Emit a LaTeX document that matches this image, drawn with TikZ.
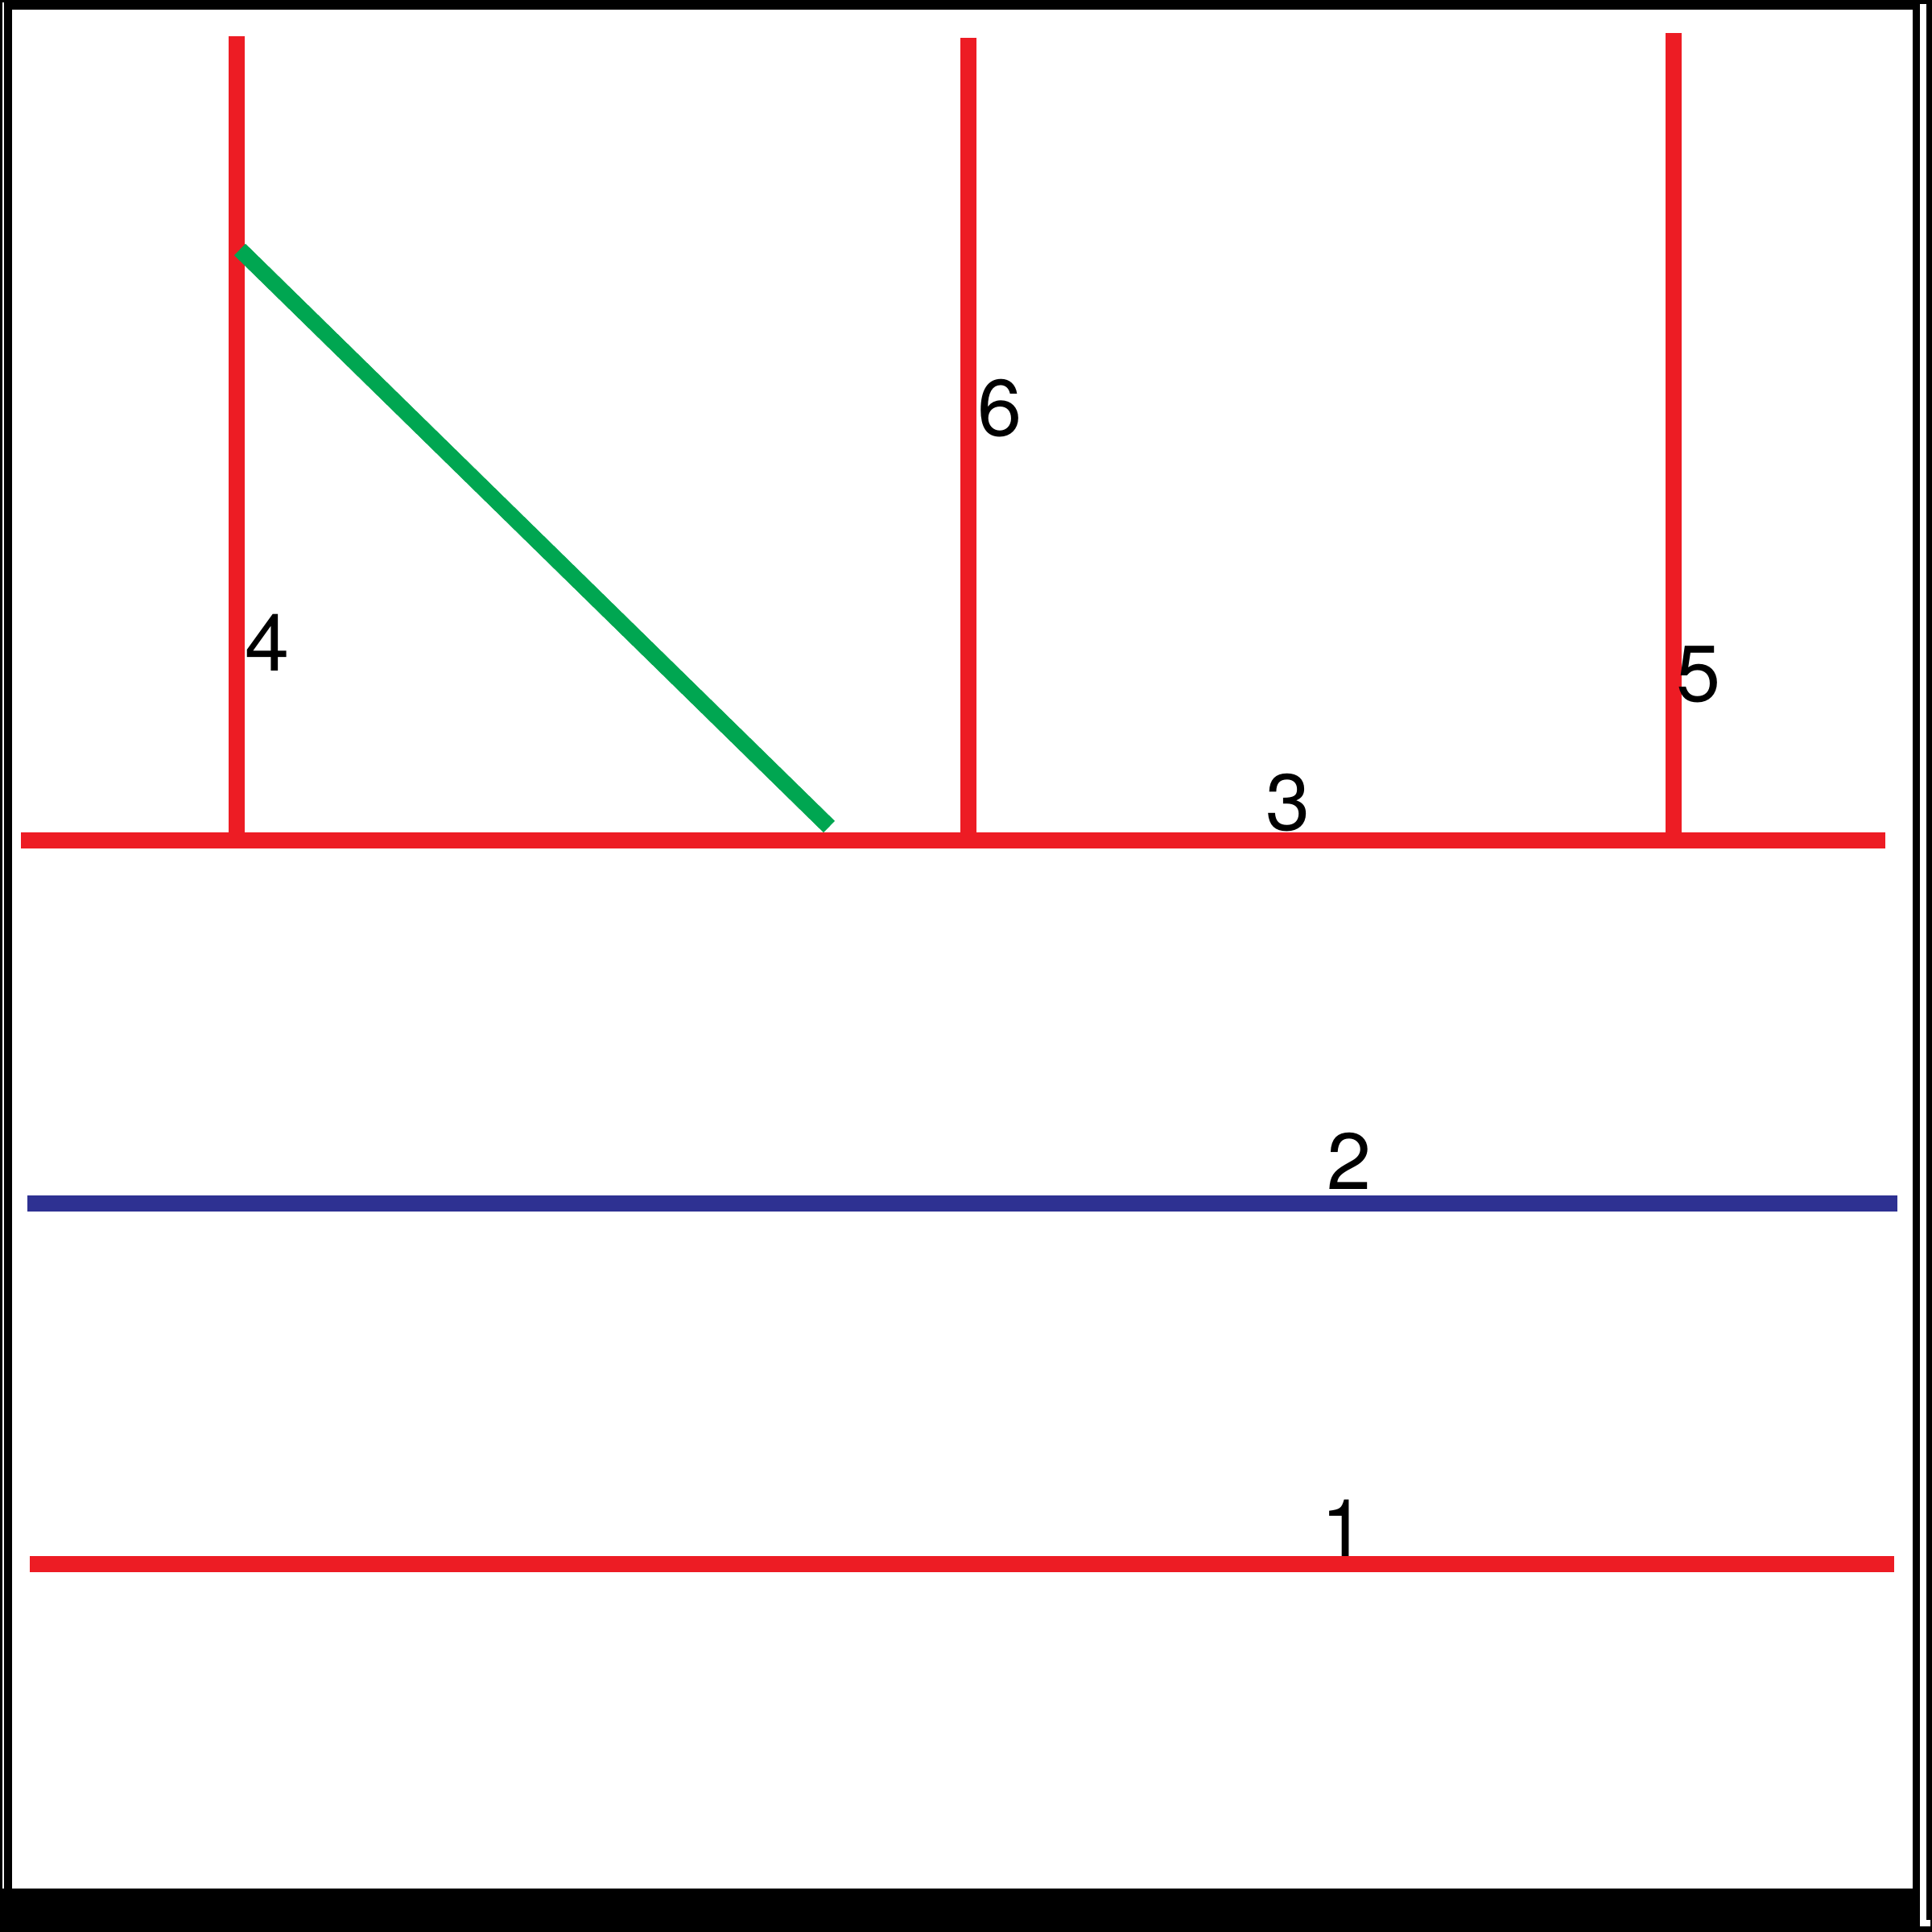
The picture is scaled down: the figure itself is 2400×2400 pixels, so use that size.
\documentclass[tikz,border=0pt]{standalone}
\usepackage{fontspec}
\setmainfont{TeX Gyre Heros}
\definecolor{lred}{HTML}{ED1C24}
\definecolor{lblue}{HTML}{2E3192}
\definecolor{lgreen}{HTML}{00A651}
\begin{document}
\begin{tikzpicture}[x=0.01cm,y=-0.01cm,
  redline/.style={draw=lred,line width=0.2cm},
  blueline/.style={draw=lblue,line width=0.2cm},
  greenline/.style={draw=lgreen,line width=0.2cm},
  lbl/.style={inner sep=0pt,anchor=base,font=\fontsize{28.2}{30}\selectfont}]
\useasboundingbox (0,0) rectangle (2400,2400);
% frame
\fill[black] (0,0) rectangle (2400,2400);
\fill[white] (15,12) rectangle (2376,2346);
\fill[white] (3,3) rectangle (5,2346);
\fill[white] (2385,5) rectangle (2393,2385);
\fill[white] (2385,2385) rectangle (2398,2393);
% coordinates
\coordinate (h3l) at (26,1043.5);
\coordinate (h3r) at (2342,1043.5);
\coordinate (v4t) at (294,45);
\coordinate (v4b) at (294,1043.5);
\coordinate (v6t) at (1203,47);
\coordinate (v6b) at (1203,1043.5);
\coordinate (v5t) at (2079,41);
\coordinate (v5b) at (2079,1043.5);
\coordinate (h2l) at (34,1495);
\coordinate (h2r) at (2357,1495);
\coordinate (h1l) at (37,1942.5);
\coordinate (h1r) at (2353,1942.5);
\coordinate (gs) at (298,310);
\coordinate (ge) at (1030,1027);
% lines
\draw[redline] (v4t) -- (v4b);
\draw[redline] (v6t) -- (v6b);
\draw[redline] (v5t) -- (v5b);
\draw[redline] (h3l) -- (h3r);
\draw[blueline] (h2l) -- (h2r);
\draw[redline] (h1l) -- (h1r);
\draw[greenline] (gs) -- (ge);
% labels
\node[lbl] (l4) at (332,833) {4};
\node[lbl] (l6) at (1242,541) {6};
\node[lbl] (l5) at (2110,871) {5};
\node[lbl] (l3) at (1600,1031) {3};
\node[lbl] (l2) at (1676,1477) {2};
\node[lbl] (l1) at (1669,1933) {1};
\end{tikzpicture}
\end{document}
